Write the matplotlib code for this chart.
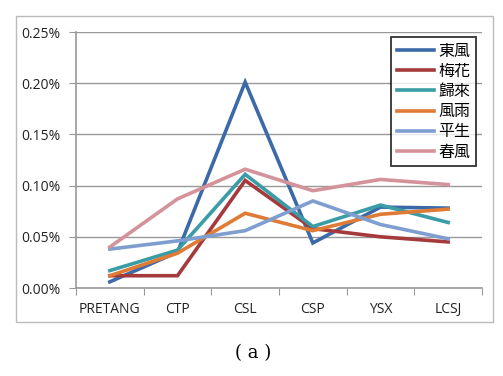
import matplotlib
matplotlib.use('Agg')
import matplotlib.pyplot as plt
from matplotlib.patches import Rectangle
from matplotlib.ticker import FuncFormatter, FixedLocator

categories = ['PRETANG', 'CTP', 'CSL', 'CSP', 'YSX', 'LCSJ']
series_names = ['東風', '梅花', '歸來', '風雨', '平生', '春風']
dongfeng = [0.006, 0.035, 0.201, 0.044, 0.079, 0.078]
meihua = [0.012, 0.012, 0.105, 0.058, 0.050, 0.045]
guilai = [0.017, 0.037, 0.111, 0.060, 0.081, 0.064]
fengyu = [0.012, 0.034, 0.073, 0.056, 0.072, 0.077]
pingsheng = [0.038, 0.046, 0.056, 0.085, 0.062, 0.048]
chunfeng = [0.040, 0.087, 0.116, 0.095, 0.106, 0.101]
colors = ['#3C6AA8', '#A43A3B', '#3A9CA6', '#E07B35', '#7F9ED0', '#D4939B']

series = [dongfeng, meihua, guilai, fengyu, pingsheng, chunfeng]

fig = plt.figure(figsize=(5.03, 3.76), dpi=100)
fig.patches.append(Rectangle((16 / 503, 1 - 322 / 376), 477 / 503, 306 / 376,
                             transform=fig.transFigure, fill=False,
                             edgecolor='#BBBBBB', linewidth=1.0))
ax = fig.add_axes([76 / 503, 1 - 288 / 376, 406 / 503, 256 / 376])

x = [i + 0.5 for i in range(len(categories))]
for name, vals, c in zip(series_names, series, colors):
    ax.plot(x, vals, color=c, linewidth=2.6, label=name, solid_joinstyle='miter')

ax.set_xlim(0, len(categories))
ax.set_ylim(0, 0.25)
ax.set_yticks([0, 0.05, 0.10, 0.15, 0.20, 0.25])
ax.yaxis.set_major_formatter(FuncFormatter(lambda v, p: '%.2f%%' % v))
ax.xaxis.set_major_locator(FixedLocator(range(len(categories) + 1)))
ax.set_xticklabels([])
ax.set_xticks(x, minor=True)
ax.set_xticklabels(categories, minor=True)
ax.tick_params(axis='x', which='minor', length=0, pad=10)
ax.tick_params(axis='x', which='major', length=5, color='#999999', direction='out')
ax.tick_params(axis='y', length=5, color='#999999', pad=6)
for lab in ax.get_xticklabels(minor=True) + ax.get_yticklabels():
    lab.set_fontsize(10)
    lab.set_family('Open Sans')
    lab.set_color('#222222')
ax.grid(axis='y', color='#999999', linewidth=1.0)
ax.set_axisbelow(True)
for s in ['top', 'right']:
    ax.spines[s].set_visible(False)
for s in ['left', 'bottom']:
    ax.spines[s].set_color('#999999')
    ax.spines[s].set_linewidth(1.2)

leg = ax.legend(loc='upper right', bbox_to_anchor=(400 / 406, 251 / 256),
                borderaxespad=0,
                prop={'family': ['Noto Sans CJK TC', 'DejaVu Sans'], 'size': 11.5},
                frameon=True, fancybox=False, edgecolor='black', handlelength=2.3,
                handletextpad=0.3, labelspacing=0.2, borderpad=0.35)
leg.get_frame().set_linewidth(1.3)

fig.text(253 / 503, 1 - 353 / 376, '( a )', ha='center', va='center', fontsize=13,
         family='DejaVu Serif')

fig.savefig('out.png', dpi=100)
